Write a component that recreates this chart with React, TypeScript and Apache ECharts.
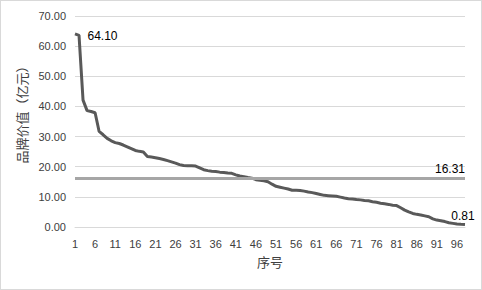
import React, { useEffect, useRef } from "react";
import * as echarts from "echarts";

const categories: string[] = Array.from({ length: 98 }, (_, i) => String(i + 1));

const brandValues: number[] = [
  64.1, 63.6, 42.1, 38.6, 38.3, 37.9, 31.7, 30.6, 29.4, 28.6,
  28.0, 27.7, 27.2, 26.6, 26.0, 25.4, 25.1, 24.9, 23.4, 23.2,
  23.0, 22.7, 22.4, 22.0, 21.6, 21.2, 20.7, 20.4, 20.3, 20.3,
  20.2, 19.6, 19.0, 18.7, 18.5, 18.4, 18.2, 18.1, 17.9, 17.8,
  17.3, 16.9, 16.7, 16.4, 16.2, 15.7, 15.5, 15.3, 15.0, 14.2,
  13.5, 13.2, 12.9, 12.6, 12.2, 12.2, 12.1, 11.9, 11.6, 11.4,
  11.1, 10.8, 10.5, 10.4, 10.3, 10.2, 9.9, 9.6, 9.4, 9.3,
  9.1, 9.0, 8.8, 8.7, 8.4, 8.2, 7.9, 7.7, 7.5, 7.2,
  7.1, 6.4, 5.6, 5.0, 4.5, 4.2, 4.0, 3.7, 3.4, 2.7,
  2.3, 2.1, 1.8, 1.4, 1.2, 1.0, 0.9, 0.81,
];

const averageValue = 16.31;
const yTicks = { min: 0, max: 70, interval: 10 };

const FONT = "'Liberation Sans', 'Noto Sans CJK SC', sans-serif";
const CJK = "'Noto Sans CJK SC', sans-serif";
const TEXT = "#404040";

export default function App() {
  const ref = useRef<HTMLDivElement>(null);

  useEffect(() => {
    if (!ref.current) return;
    const chart = echarts.init(ref.current, undefined, { renderer: "svg" });
    const lastIdx = brandValues.length - 1;
    const fmt = (p: any) => Number(p.value).toFixed(2);
    const data = brandValues.map((v, i) => {
      if (i === 0) {
        return {
          value: v,
          label: { show: true, position: "right", offset: [7, 2], formatter: fmt },
        };
      }
      if (i === lastIdx) {
        return {
          value: v,
          label: { show: true, position: "top", offset: [-2, 3], formatter: fmt },
        };
      }
      return v;
    });

    chart.setOption({
      animation: false,
      textStyle: { fontFamily: FONT },
      grid: { left: 74, right: 16, top: 15, bottom: 62 },
      xAxis: {
        type: "category",
        data: categories,
        boundaryGap: false,
        name: "序号",
        nameLocation: "middle",
        nameGap: 28,
        nameTextStyle: { color: TEXT, fontSize: 13, fontFamily: CJK },
        axisLine: { show: true, lineStyle: { color: "#d9d9d9", width: 1 } },
        axisTick: { show: false },
        axisLabel: { interval: 4, color: TEXT, fontSize: 11, margin: 11 },
        splitLine: { show: false },
      },
      yAxis: {
        type: "value",
        min: yTicks.min,
        max: yTicks.max,
        interval: yTicks.interval,
        name: "品牌价值（亿元）",
        nameLocation: "middle",
        nameRotate: 90,
        nameGap: 45,
        nameTextStyle: { color: TEXT, fontSize: 13, fontFamily: CJK, padding: [0, 0, 0, 20] },
        axisLine: { show: false },
        axisTick: { show: false },
        axisLabel: {
          color: TEXT,
          fontSize: 11,
          margin: 9,
          formatter: (v: number) => v.toFixed(2),
        },
        splitLine: { lineStyle: { color: "#d9d9d9", width: 1 } },
      },
      series: [
        {
          type: "line",
          data,
          symbol: "circle",
          symbolSize: 1,
          showSymbol: true,
          lineStyle: { color: "#595959", width: 3 },
          itemStyle: { color: "rgba(0,0,0,0)" },
          label: { color: "#000", fontSize: 12, fontFamily: FONT },
          z: 3,
          markLine: {
            silent: true,
            symbol: "none",
            lineStyle: { color: "#a6a6a6", width: 3, type: "solid" },
            label: {
              show: true,
              position: "insideEndTop",
              color: "#000",
              fontSize: 12,
              fontFamily: FONT,
              distance: [0, 3],
              formatter: () => averageValue.toFixed(2),
            },
            data: [{ yAxis: averageValue }],
          },
        },
      ],
    });
    return () => chart.dispose();
  }, []);

  return (
    <div
      style={{
        position: "fixed",
        left: 0,
        top: 0,
        width: 482,
        height: 290,
        boxSizing: "border-box",
        border: "1px solid #d9d9d9",
        background: "#fff",
      }}
    >
      <div ref={ref} style={{ width: 480, height: 288 }} />
    </div>
  );
}
